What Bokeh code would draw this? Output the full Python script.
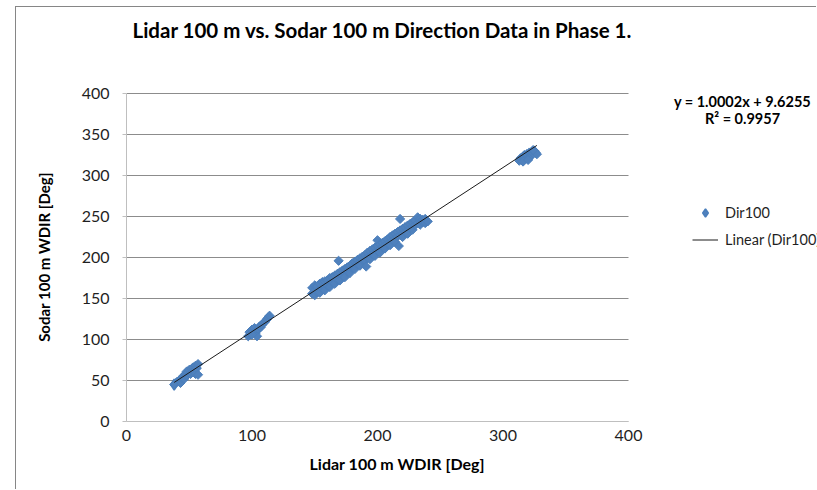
from bokeh.plotting import figure
from bokeh.models import Label, Legend, LegendItem, Title
from bokeh.embed import file_html
from bokeh.resources import INLINE

# Wind direction pairs (Lidar 100 m vs. Sodar 100 m), degrees, grouped by sector
lidar_sector_ne = [38, 40, 42, 43, 44, 45, 46, 47, 48, 48, 49, 50, 51, 52, 52, 53, 54, 55, 55, 56, 57, 57]
sodar_sector_ne = [45, 48, 50, 47, 53, 55, 52, 58, 56, 61, 60, 63, 58, 64, 60, 66, 62, 68, 58, 65, 70, 57]

lidar_sector_e = [97, 98, 99, 100, 101, 102, 103, 104, 104, 105, 106, 107, 108, 109, 110, 111, 112, 113, 114, 100]
sodar_sector_e = [104, 109, 107, 112, 110, 114, 108, 111, 104, 113, 116, 115, 118, 120, 121, 123, 125, 127, 129, 106]

lidar_sector_s = [
    148, 148, 150, 150, 150, 152, 152, 154, 154, 154, 156, 156, 158, 158, 158,
    160, 160, 162, 162, 162, 164, 164, 166, 166, 166, 168, 168, 169, 170, 170, 170,
    172, 172, 174, 174, 174, 176, 176, 178, 178, 178, 180, 180, 182, 182, 182,
    184, 184, 186, 186, 186, 188, 188, 190, 190, 191, 192, 192, 194, 194, 194,
    196, 196, 198, 198, 198, 200, 200, 200, 202, 202, 202, 204, 204, 206, 206, 206,
    208, 208, 210, 210, 210, 212, 212, 214, 214, 214, 216, 216, 217, 218, 218, 218,
    220, 220, 220, 222, 222, 224, 224, 224, 226, 226, 228, 228, 228, 230, 230,
    232, 232, 234, 234, 234, 236, 236, 238, 238, 240,
]
sodar_sector_s = [
    156, 163, 160, 166, 154, 158, 165, 161, 168, 157, 163, 170, 164, 171, 160,
    166, 172, 168, 175, 164, 170, 176, 172, 178, 168, 173, 180, 196, 176, 182, 172,
    178, 184, 180, 186, 176, 183, 188, 185, 190, 181, 187, 193, 190, 195, 186,
    192, 197, 194, 199, 190, 197, 201, 196, 203, 189, 200, 206, 202, 208, 198,
    204, 210, 206, 212, 202, 208, 214, 221, 210, 216, 206, 213, 218, 215, 220, 211,
    217, 222, 219, 225, 215, 221, 227, 223, 229, 219, 226, 231, 214, 228, 233, 247,
    229, 235, 225, 231, 237, 233, 239, 229, 236, 241, 238, 243, 234, 240, 245,
    242, 249, 244, 247, 240, 246, 243, 247, 242, 244,
]

lidar_sector_nw = [313, 314, 315, 316, 317, 317, 318, 319, 319, 320, 321, 321, 322, 323, 323, 324, 325, 326, 327, 316, 320, 324]
sodar_sector_nw = [318, 321, 319, 323, 320, 325, 322, 326, 321, 324, 328, 322, 326, 329, 325, 327, 330, 328, 326, 317, 319, 331]

lidar_dir = lidar_sector_ne + lidar_sector_e + lidar_sector_s + lidar_sector_nw
sodar_dir = sodar_sector_ne + sodar_sector_e + sodar_sector_s + sodar_sector_nw

# Linear fit reported on the chart
slope = 1.0002
intercept = 9.6255
r_squared = 0.9957

x_ticks = [0, 100, 200, 300, 400]
y_ticks = [0, 50, 100, 150, 200, 250, 300, 350, 400]
x_max = 400
y_max = 400

FONT = "Lato"
BLUE_FILL = "#4F81BD"
BLUE_LINE = "#4A7EBB"
GRID = "#8C8C8C"
AXIS = "#BFBFBF"
TEXT = "#1F1F1F"

# sheet geometry (the sheet is offset 16 px / 7 px inside the page)
W, H = 801, 483
FRAME_L, FRAME_T, FRAME_B = 110, 85, 69
PLOT_W = 502          # pixels spanned by x in [0, 400]
PX_PER_Y = 0.82       # pixels per degree on the y axis
frame_w = W - FRAME_L
frame_h = H - FRAME_B - FRAME_T

p = figure(
    width=W, height=H,
    x_range=(0, x_max * frame_w / PLOT_W), y_range=(0, frame_h / PX_PER_Y),
    output_backend="svg", toolbar_location=None,
    min_border_left=FRAME_L, min_border_right=0,
    min_border_top=FRAME_T, min_border_bottom=FRAME_B,
    background_fill_color="white", border_fill_color="white",
)
p.margin = (6, 0, 0, 15)
p.styles = {"border-left": "1px solid #868686", "border-top": "1px solid #868686"}
p.outline_line_color = None
p.xgrid.visible = False
p.ygrid.visible = False

# spacer between plot area and chart title
p.add_layout(Title(text="\u00a0", text_font=FONT, text_font_size="30px", standoff=8), "above")

p.title.text = "Lidar 100 m vs. Sodar 100 m Direction Data in Phase 1."
p.title.align = "left"
p.title.offset = 6
p.title.standoff = 10
p.title.text_font = FONT
p.title.text_font_size = "20.5px"
p.title.text_font_style = "bold"
p.title.text_color = "#000000"

p.xaxis.ticker = x_ticks
p.yaxis.ticker = y_ticks
p.xaxis.bounds = (0, x_max)
p.yaxis.bounds = (0, y_max)

for ax in (p.xaxis[0], p.yaxis[0]):
    ax.axis_line_color = AXIS
    ax.axis_line_width = 1
    ax.minor_tick_line_color = None
    ax.major_label_text_font = FONT
    ax.major_label_text_font_size = "16px"
    ax.major_label_text_color = TEXT
    ax.axis_label_text_font = FONT
    ax.axis_label_text_font_size = "15px"
    ax.axis_label_text_font_style = "bold"
    ax.axis_label_text_color = "#000000"

p.xaxis.major_tick_out = 0
p.xaxis.major_tick_in = 0
p.xaxis.major_label_standoff = 8

p.yaxis.major_tick_out = 4
p.yaxis.major_tick_in = 0
p.yaxis.major_tick_line_color = AXIS
p.yaxis.major_label_standoff = 13
p.yaxis.axis_label = "Sodar 100 m WDIR [Deg]"
p.yaxis.axis_label_standoff = 26

# x-axis title, centred under the [0, 400] span
p.add_layout(Title(
    text="Lidar 100 m WDIR [Deg]", align="left", offset=183,
    vertical_align="top", standoff=20,
    text_font=FONT, text_font_size="16px", text_font_style="bold", text_color="#000000",
), "below")

# horizontal gridlines across the plotted x extent only
p.segment(x0=0, x1=x_max, y0=y_ticks, y1=y_ticks, line_color=GRID, line_width=1)

# observations (diamond markers)
pts = p.scatter(
    lidar_dir, sodar_dir, marker="square", angle=0.7854, size=6.5,
    fill_color=BLUE_FILL, line_color=BLUE_LINE, line_width=1,
)
# legend key glyph, sitting on the first observation
key = p.scatter(
    x=lidar_dir[:1], y=sodar_dir[:1], marker="diamond", size=11,
    fill_color=BLUE_FILL, line_color=BLUE_LINE, line_width=1.5,
)

# trend line over the observed range
x_lo, x_hi = min(lidar_dir), max(lidar_dir)
trend = p.line(
    [x_lo, x_hi], [slope * x_lo + intercept, slope * x_hi + intercept],
    line_color="#1A1A1A", line_width=1,
)

# fit equation
eq_style = dict(
    x_units="screen", y_units="screen", text_align="center", text_baseline="middle",
    text_font=FONT, text_font_size="14.5px", text_font_style="bold", text_color="#000000",
)
p.add_layout(Label(x=616, y=320, text=f"y = {slope:.4f}x + {intercept:.4f}", **eq_style))
p.add_layout(Label(x=616, y=303, text=f"R² = {r_squared:.4f}", **eq_style))

legend = Legend(
    items=[
        LegendItem(label="Dir100", renderers=[key]),
        LegendItem(label="Linear (Dir100)", renderers=[trend]),
    ],
    location=(566, 171),
    orientation="vertical",
    padding=0, margin=0, spacing=6,
    glyph_width=26, glyph_height=21, label_height=21,
    label_standoff=7,
    label_text_font=FONT, label_text_font_size="14.5px", label_text_color=TEXT,
    border_line_color=None, background_fill_alpha=0,
)
p.add_layout(legend)

open("out.html", "w").write(file_html(p, INLINE))
